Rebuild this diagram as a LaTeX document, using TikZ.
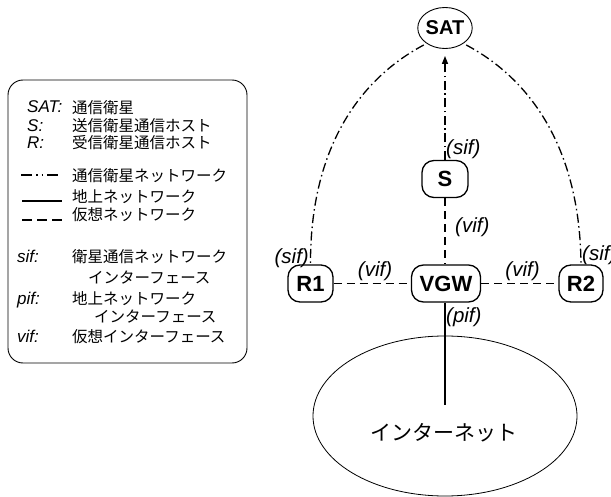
\documentclass[tikz,border=0pt]{standalone}
\usepackage{fontspec}
\setmainfont{Liberation Sans}
\newfontfamily\jp{Noto Sans CJK JP}
\usetikzlibrary{shapes.geometric,arrows.meta}
\begin{document}
\begin{tikzpicture}[x=1pt,y=-1pt,
 box/.style={draw, line width=1.3pt, rounded corners=12pt, minimum height=37pt, inner sep=0pt, font=\fontsize{22}{26}\selectfont\bfseries},
 satnode/.style={draw, ellipse, line width=0.9pt, minimum width=45pt, minimum height=41pt, inner sep=0pt, font=\fontsize{20}{24}\selectfont\bfseries},
 lbl/.style={inner sep=0pt, font=\fontsize{20.5}{24}\selectfont\itshape},
 leglat/.style={anchor=base west, inner sep=0pt, font=\fontsize{17}{20}\selectfont\itshape},
 legjp/.style={anchor=base west, inner sep=0pt, font=\fontsize{15.5}{18}\selectfont\jp},
 satlink/.style={line width=1.3pt, dash pattern=on 9pt off 3.5pt on 1.5pt off 3.5pt},
 virt/.style={line width=1.3pt, dash pattern=on 8pt off 5pt},
 ground/.style={line width=1.4pt},
]
\useasboundingbox (0,0) rectangle (611,497);

% legend
\node[draw, line width=0.9pt, rounded corners=15pt, minimum width=239pt, minimum height=283pt, inner sep=0pt] (legend) at (127.5,221.5) {};
\node[leglat] (l1) at (27,113) {SAT:};
\node[legjp] (j1) at (72,114) {通信衛星};
\node[leglat] (l2) at (27,132) {S:};
\node[legjp] (j2) at (72,132) {送信衛星通信ホスト};
\node[leglat] (l3) at (27,149) {R:};
\node[legjp] (j3) at (72,149) {受信衛星通信ホスト};
\coordinate (a1) at (21,175); \coordinate (a2) at (59,175);
\draw[line width=1.3pt, dash pattern=on 11pt off 4pt on 1.5pt off 4pt on 1.5pt off 4pt] (a1) -- (a2);
\node[legjp] (j4) at (72,182) {通信衛星ネットワーク};
\coordinate (b1) at (22,201); \coordinate (b2) at (62,201);
\draw[ground] (b1) -- (b2);
\node[legjp] (j5) at (72,203) {地上ネットワーク};
\coordinate (c1) at (22,220); \coordinate (c2) at (62,220);
\draw[line width=1.3pt, dash pattern=on 10pt off 5pt] (c1) -- (c2);
\node[legjp] (j6) at (72,221) {仮想ネットワーク};
\node[leglat] (l4) at (17,263) {sif:};
\node[legjp] (j7) at (72,263) {衛星通信ネットワーク};
\node[legjp] (j8) at (88,284) {インターフェース};
\node[leglat] (l5) at (17,305) {pif:};
\node[legjp] (j9) at (72,305) {地上ネットワーク};
\node[legjp] (j10) at (94,323) {インターフェース};
\node[leglat] (l6) at (17,343) {vif:};
\node[legjp] (j11) at (72,343) {仮想インターフェース};

% nodes
\node[satnode] (SAT) at (445,28) {SAT};
\node[box, minimum width=46pt] (S) at (445,179) {S};
\node[box, minimum width=69pt] (VGW) at (446,283.5) {VGW};
\node[box, minimum width=45pt] (R1) at (310.5,283.5) {R1};
\node[box, minimum width=44pt] (R2) at (581,283.5) {R2};
\node[draw, ellipse, line width=0.8pt, minimum width=264pt, minimum height=160pt, inner sep=0pt] (inet) at (445,416) {};
\node[inner sep=0pt, font=\fontsize{21}{24}\selectfont\jp] (inettxt) at (444,433) {インターネット};
\coordinate (gend) at (445,405);

% connectors
\draw[satlink, -{Triangle[length=8pt,width=6pt]}, shorten >=7pt] (S.north) -- (SAT.south);
\draw[satlink, shorten <=3pt] (SAT.-140) .. controls (358,80) and (310,150) .. (R1.north);
\draw[satlink, shorten <=3pt] (SAT.-40) .. controls (532,80) and (580,150) .. (R2.north);
\draw[virt] (S.south) -- (S.south |- VGW.north);
\draw[virt] (R1.east) -- (VGW.west);
\draw[virt] (VGW.east) -- (R2.west);
\draw[ground] (VGW.south -| gend) -- (gend);

% labels
\node[lbl, anchor=west] (t1) at (446,149) {(sif)};
\node[lbl, anchor=west] (t2) at (455,227) {(vif)};
\node[lbl, anchor=east] (t3) at (309,258) {(sif)};
\node[lbl] (t4) at (375,271) {(vif)};
\node[lbl] (t5) at (522.5,271) {(vif)};
\node[lbl, anchor=west] (t6) at (582,255) {(sif)};
\node[lbl, anchor=west] (t7) at (446,317) {(pif)};
\end{tikzpicture}
\end{document}
